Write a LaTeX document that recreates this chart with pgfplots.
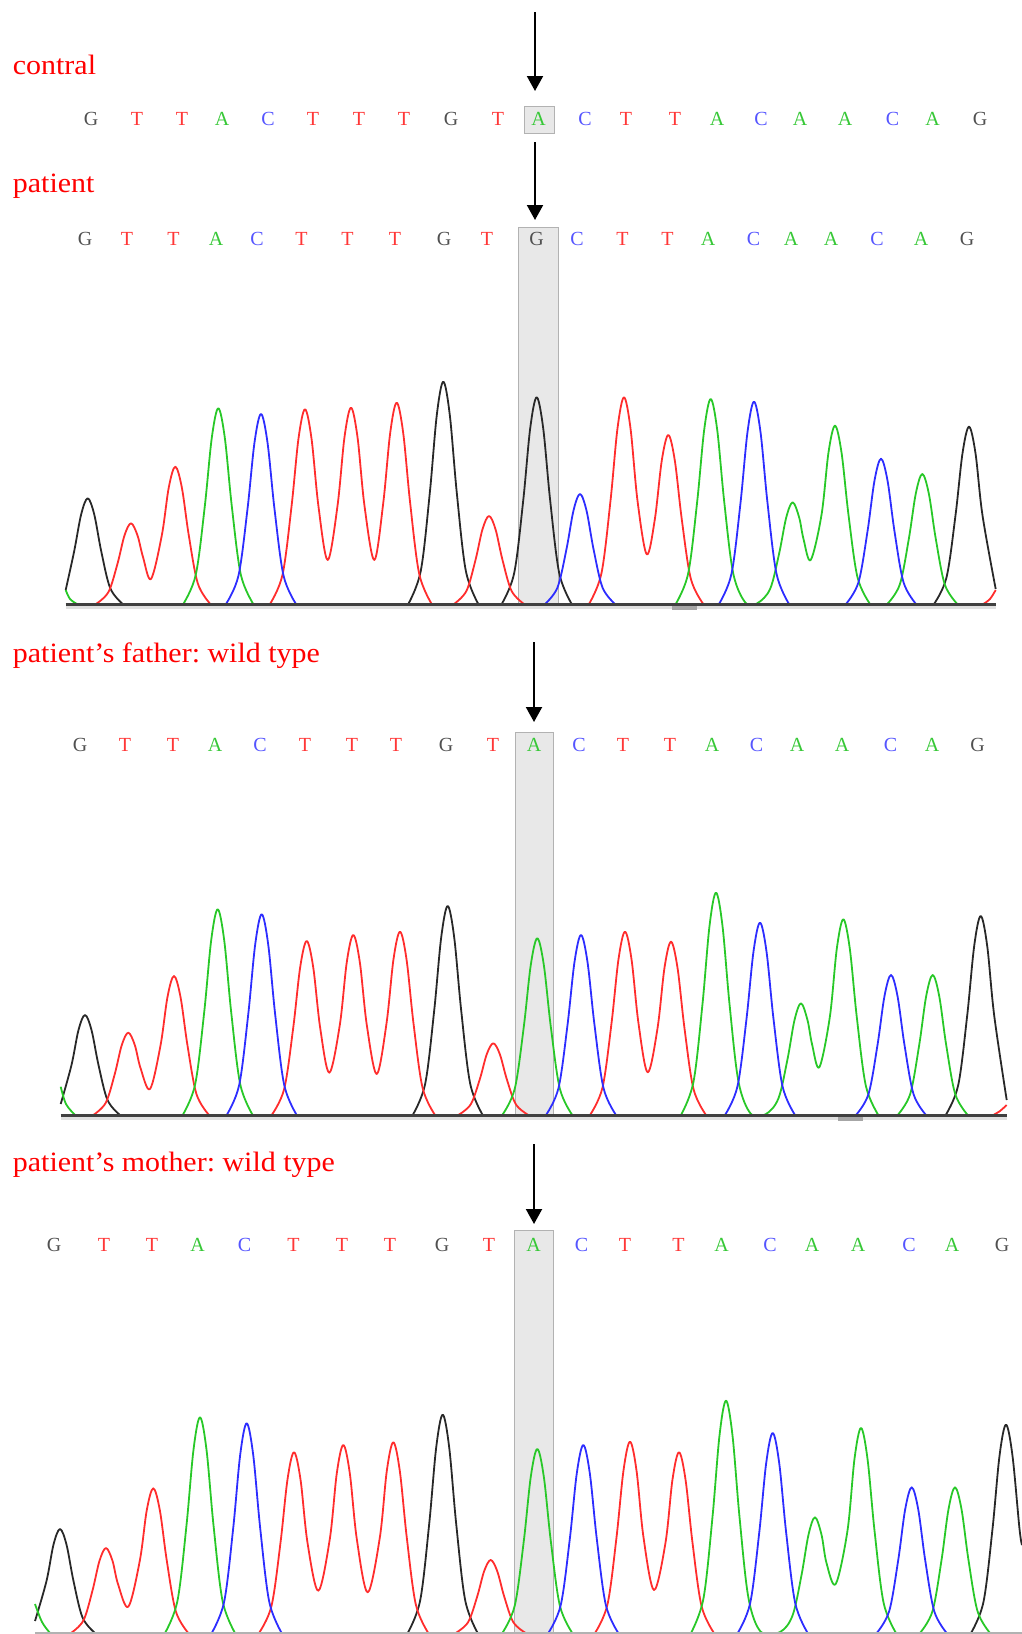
\documentclass[border=0pt]{standalone}
\usepackage{fontspec}
\setmainfont{Liberation Serif}
\newfontfamily\seqfont{lmmono10-regular.otf}[FakeBold=0.9]
\usepackage{graphicx}
\usepackage{pgfplots}
\pgfplotsset{compat=1.18}
\usetikzlibrary{arrows.meta}
\frenchspacing
\definecolor{trR}{RGB}{255,45,45}
\definecolor{trG}{RGB}{40,200,40}
\definecolor{trB}{RGB}{45,45,255}
\definecolor{trK}{RGB}{40,40,40}
\definecolor{seqG}{RGB}{80,80,80}
\definecolor{seqT}{RGB}{255,55,55}
\definecolor{seqA}{RGB}{55,200,55}
\definecolor{seqC}{RGB}{85,85,255}
\definecolor{boxfill}{RGB}{232,232,232}
\definecolor{boxline}{RGB}{178,178,178}
\definecolor{lab}{RGB}{255,0,0}
\tikzset{lbl/.style={anchor=base west,inner sep=0pt,text=lab,font=\fontsize{14}{14}\selectfont}}
\begin{document}
\begin{tikzpicture}
\begin{axis}[width=511pt,height=817pt,scale only axis,
  xmin=0,xmax=1022,ymin=0,ymax=1634,y dir=reverse,hide axis,
  unbounded coords=jump,
  trace/.style={smooth,tension=0.55,line width=0.9pt,mark=none,line join=round},
  seqbig/.style={only marks,mark=text,text mark as node=true,
     text mark style={font=\fontsize{9.6}{9.6}\seqfont,anchor=center}},
  seqsmall/.style={only marks,mark=text,text mark as node=true,
     text mark style={font=\fontsize{8.8}{8.8}\seqfont,anchor=center}},
]
\path (rel axis cs:0,0) rectangle (rel axis cs:1,1);

% highlight boxes
\draw[fill=boxfill,draw=boxline,line width=0.5pt] (axis cs:524.5,106) rectangle (axis cs:554.5,133);
\draw[fill=boxfill,draw=boxline,line width=0.5pt] (axis cs:518,227) rectangle (axis cs:558,604);
\draw[fill=boxfill,draw=boxline,line width=0.5pt] (axis cs:515.5,732) rectangle (axis cs:553.5,1115);
\draw[fill=boxfill,draw=boxline,line width=0.5pt] (axis cs:514,1230) rectangle (axis cs:553.5,1634);

% labels
\node[lbl] at (axis cs:12.5,74) {\scalebox{1.07}[1]{contral}};
\node[lbl] at (axis cs:12.5,192) {\scalebox{1.07}[1]{patient}};
\node[lbl] at (axis cs:12.5,662) {\scalebox{1.07}[1]{patient’s father: wild type}};
\node[lbl] at (axis cs:12.5,1171) {\scalebox{1.07}[1]{patient’s mother: wild type}};

% arrows
\draw[line width=1pt,-{Triangle[width=8pt,length=7.5pt]}] (axis cs:535,12) -- (axis cs:535,91);
\draw[line width=1pt,-{Triangle[width=8pt,length=7.5pt]}] (axis cs:535,142) -- (axis cs:535,220);
\draw[line width=1pt,-{Triangle[width=8pt,length=7.5pt]}] (axis cs:534,642) -- (axis cs:534,722);
\draw[line width=1pt,-{Triangle[width=8pt,length=7.5pt]}] (axis cs:534,1144) -- (axis cs:534,1224);

% ---- base calls: contral (y=119)
\addplot[seqbig,color=seqG,text mark={G},text mark style={text=seqG}] coordinates {(91,119) (451,119) (980,119)};
\addplot[seqbig,color=seqT,text mark={T},text mark style={text=seqT}] coordinates {(137,119) (182,119) (313,119) (359,119) (404,119) (498,119) (626,119) (675,119)};
\addplot[seqbig,color=seqA,text mark={A},text mark style={text=seqA}] coordinates {(222,119) (538.5,119) (717,119) (800,119) (845,119) (932.5,119)};
\addplot[seqbig,color=seqC,text mark={C},text mark style={text=seqC}] coordinates {(268,119) (585,119) (761,119) (892.5,119)};
% patient (y=239)
\addplot[seqsmall,color=seqG,text mark={G},text mark style={text=seqG}] coordinates {(85,239) (444,239) (536.5,239) (967,239)};
\addplot[seqsmall,color=seqT,text mark={T},text mark style={text=seqT}] coordinates {(127,239) (173.5,239) (301.5,239) (347.5,239) (395,239) (487,239) (622.5,239) (667.5,239)};
\addplot[seqsmall,color=seqA,text mark={A},text mark style={text=seqA}] coordinates {(216,239) (708,239) (791,239) (831,239) (921,239)};
\addplot[seqsmall,color=seqC,text mark={C},text mark style={text=seqC}] coordinates {(257,239) (577,239) (753.5,239) (877,239)};
% father (y=744.5)
\addplot[seqsmall,color=seqG,text mark={G},text mark style={text=seqG}] coordinates {(80,744.5) (446,744.5) (977.5,744.5)};
\addplot[seqsmall,color=seqT,text mark={T},text mark style={text=seqT}] coordinates {(125,744.5) (173,744.5) (305,744.5) (352,744.5) (396,744.5) (493,744.5) (623,744.5) (670,744.5)};
\addplot[seqsmall,color=seqA,text mark={A},text mark style={text=seqA}] coordinates {(215,744.5) (534,744.5) (712,744.5) (797,744.5) (842,744.5) (932,744.5)};
\addplot[seqsmall,color=seqC,text mark={C},text mark style={text=seqC}] coordinates {(260,744.5) (579,744.5) (756.5,744.5) (890.5,744.5)};
% mother (y=1244.5)
\addplot[seqbig,color=seqG,text mark={G},text mark style={text=seqG}] coordinates {(54,1244.5) (442,1244.5) (1002,1244.5)};
\addplot[seqbig,color=seqT,text mark={T},text mark style={text=seqT}] coordinates {(104,1244.5) (152,1244.5) (293.5,1244.5) (342,1244.5) (390,1244.5) (489,1244.5) (625,1244.5) (678.5,1244.5)};
\addplot[seqbig,color=seqA,text mark={A},text mark style={text=seqA}] coordinates {(197.5,1244.5) (533.5,1244.5) (721.5,1244.5) (812,1244.5) (858,1244.5) (952,1244.5)};
\addplot[seqbig,color=seqC,text mark={C},text mark style={text=seqC}] coordinates {(244.5,1244.5) (581.5,1244.5) (770,1244.5) (909,1244.5)};

% ================= PATIENT traces (baseline 604)
\addplot[trace,trK] coordinates {
(65.7,590) (74.2,551.1) (81.2,514.2) (87.7,498.3) (94.2,514.2) (101.2,551.1) (110.2,588.1) (122.7,604) (nan,nan)
(408.3,604) (420.8,570.7) (429.8,492.9) (436.8,415) (443.3,381.7) (449.8,415) (456.8,492.9) (465.8,570.7) (478.3,604) (nan,nan)
(501.7,604) (514.2,573) (523.2,500.7) (530.2,428.3) (536.7,397.3) (543.2,428.3) (550.2,500.7) (559.2,573) (571.7,604) (nan,nan)
(934,604) (946.5,577.4) (955.5,515.4) (962.5,453.3) (969,426.7) (975.5,453.3) (982.5,515.4) (995.7,589)};
\addplot[trace,trR] coordinates {
(96,604) (108.5,591.9) (117.5,563.7) (124.5,535.4) (131,523.3) (137.5,535.4) (143,557) (151,579) (161.8,535.4) (168.8,487.3) (175.3,466.7) (181.8,487.3) (188.8,535.4) (197.8,583.4) (210.3,604) (nan,nan)
(270,604) (282.5,574.8) (291.5,506.7) (298.5,438.5) (305,409.3) (311.5,438.5) (318.5,506.7) (327.7,560) (337.5,505.9) (344.5,437.1) (351,407.7) (357.5,437.1) (364.5,505.9) (374.3,560) (383.2,503.4) (390.2,432.9) (396.7,402.7) (403.2,432.9) (410.2,503.4) (419.2,573.8) (431.7,604) (nan,nan)
(454,604) (466.5,590.8) (475.5,560) (482.5,529.2) (489,516) (495.5,529.2) (502.5,560) (511.5,590.8) (524,604) (nan,nan)
(589,604) (601.5,573) (610.5,500.7) (617.5,428.3) (624,397.3) (630.5,428.3) (637.5,500.7) (646.7,554.3) (654.8,519.5) (661.8,460.4) (668.3,435) (674.8,460.4) (681.8,519.5) (690.8,578.7) (703.3,604) (nan,nan)
(983.3,604) (990,599) (995.7,590)};
\addplot[trace,trG] coordinates {
(65.7,590) (70,599) (77,604) (nan,nan)
(183.3,604) (195.8,574.6) (204.8,506.2) (211.8,437.7) (218.3,408.3) (224.8,437.7) (231.8,506.2) (240.8,574.6) (253.3,604) (nan,nan)
(675.7,604) (688.2,573.3) (697.2,501.5) (704.2,429.8) (710.7,399) (717.2,429.8) (724.2,501.5) (733.2,573.3) (745.7,603) (757.7,603) (770.2,588.7) (779.2,553.2) (786.2,517.6) (792.7,502.3) (799.2,517.6) (803.5,539) (810.7,560) (821.5,514.9) (828.5,452.4) (835,425.7) (841.5,452.4) (848.5,514.9) (857.5,577.3) (870,604) (nan,nan)
(887.3,604) (899.8,584.5) (908.8,539) (915.8,493.5) (922.3,474) (928.8,493.5) (935.8,539) (944.8,584.5) (957.3,604)};
\addplot[trace,trB] coordinates {
(226,604) (238.5,575.5) (247.5,509) (254.5,442.5) (261,414) (267.5,442.5) (274.5,509) (283.5,575.5) (296,604) (nan,nan)
(545,604) (557.5,587.5) (566.5,549) (573.5,510.5) (580,494) (586.5,510.5) (593.5,549) (602.5,587.5) (615,604) (nan,nan)
(719,604) (731.5,573.7) (740.5,502.9) (747.5,432) (754,401.7) (760.5,432) (767.5,502.9) (776.5,573.7) (789,604) (nan,nan)
(846,604) (858.5,582.2) (867.5,531.4) (874.5,480.5) (881,458.7) (887.5,480.5) (894.5,531.4) (903.5,582.2) (916,604)};
\addplot[draw=black!12,line width=1.6pt] coordinates {(65.7,607) (995.7,607)};
\addplot[draw=black!35,line width=1.8pt] coordinates {(672,608) (697,608)};
\addplot[draw=black!75,line width=1.1pt] coordinates {(65.7,604.5) (995.7,604.5)};

% ================= FATHER traces (baseline 1115)
\addplot[trace,trK] coordinates {
(60.7,1104) (71.5,1065) (78.5,1030) (85,1015) (91.5,1030) (98.5,1065) (107.5,1100) (120,1115) (nan,nan)
(412.7,1115) (425.2,1083.7) (434.2,1010.5) (441.2,937.4) (447.7,906) (454.2,937.4) (461.2,1010.5) (470.2,1083.7) (482.7,1115) (nan,nan)
(945.7,1115) (958.2,1085.2) (967.2,1015.5) (974.2,945.9) (980.7,916) (987.2,945.9) (994.2,1015.5) (1006.7,1100)};
\addplot[trace,trR] coordinates {
(93.3,1115) (105.8,1102.7) (114.8,1073.9) (121.8,1045) (128.3,1032.7) (134.8,1045) (140.5,1068) (150,1089) (160.5,1045.5) (167.5,996.9) (174,976) (180.5,996.9) (187.5,1045.5) (196.5,1094.2) (209,1115) (nan,nan)
(271.7,1115) (284.2,1088.9) (293.2,1028) (300.2,967.1) (306.7,941) (313.2,967.1) (320.2,1028) (329.3,1072.7) (339.8,1025) (346.8,962) (353.3,935) (359.8,962) (366.8,1025) (376.7,1074) (386.5,1023.4) (393.5,959.2) (400,931.7) (406.5,959.2) (413.5,1023.4) (422.5,1087.5) (435,1115) (nan,nan)
(458.3,1115) (470.8,1104.2) (479.8,1079.2) (486.8,1054.1) (493.3,1043.3) (499.8,1054.1) (506.8,1079.2) (515.8,1104.2) (528.3,1115) (nan,nan)
(590,1115) (602.5,1087.5) (611.5,1023.4) (618.5,959.2) (625,931.7) (631.5,959.2) (638.5,1023.4) (647.7,1072.3) (657.5,1028.4) (664.5,967.7) (671,941.7) (677.5,967.7) (684.5,1028.4) (693.5,1089) (706,1115) (nan,nan)
(993.3,1115) (1000,1111) (1006.7,1105)};
\addplot[trace,trG] coordinates {
(60.7,1086.7) (66,1104) (75,1115) (nan,nan)
(182.7,1115) (195.2,1084.1) (204.2,1012.2) (211.2,940.2) (217.7,909.3) (224.2,940.2) (231.2,1012.2) (240.2,1084.1) (252.7,1115) (nan,nan)
(502.3,1115) (514.8,1088.5) (523.8,1026.7) (530.8,964.8) (537.3,938.3) (543.8,964.8) (550.8,1026.7) (559.8,1088.5) (572.3,1115) (nan,nan)
(681,1115) (693.5,1081.7) (702.5,1003.9) (709.5,926) (716,892.7) (722.5,926) (729.5,1003.9) (738.5,1081.7) (751,1114) (766,1114) (778.5,1098.2) (787.5,1059.2) (794.5,1020.1) (801,1003.3) (807.5,1020.1) (812,1044) (819.3,1067.3) (829.8,1017.2) (836.8,948.7) (843.3,919.3) (849.8,948.7) (856.8,1017.2) (865.8,1085.6) (878.3,1115) (nan,nan)
(897.7,1115) (910.2,1094) (919.2,1045) (926.2,996) (932.7,975) (939.2,996) (946.2,1045) (955.2,1094) (967.7,1115)};
\addplot[trace,trB] coordinates {
(226.7,1115) (239.2,1084.9) (248.2,1014.7) (255.2,944.4) (261.7,914.3) (268.2,944.4) (275.2,1014.7) (284.2,1084.9) (296.7,1115) (nan,nan)
(546,1115) (558.5,1088) (567.5,1025) (574.5,962) (581,935) (587.5,962) (594.5,1025) (603.5,1088) (616,1115) (nan,nan)
(725,1115) (737.5,1086.2) (746.5,1018.9) (753.5,951.5) (760,922.7) (766.5,951.5) (773.5,1018.9) (782.5,1086.2) (795,1115) (nan,nan)
(856,1115) (868.5,1094) (877.5,1045) (884.5,996) (891,975) (897.5,996) (904.5,1045) (913.5,1094) (926,1115)};
\addplot[draw=black!12,line width=1.6pt] coordinates {(60.7,1118) (1006.7,1118)};
\addplot[draw=black!35,line width=1.8pt] coordinates {(838,1119) (863,1119)};
\addplot[draw=black!75,line width=1.1pt] coordinates {(60.7,1115.5) (1006.7,1115.5)};

% ================= MOTHER traces (baseline 1633)
\addplot[trace,trK] coordinates {
(35,1621) (46.5,1581) (53.5,1544.6) (60,1529) (66.5,1544.6) (73.5,1581) (82.5,1617.4) (95,1633) (nan,nan)
(407.7,1633) (420.2,1600.3) (429.2,1523.9) (436.2,1447.4) (442.7,1414.7) (449.2,1447.4) (456.2,1523.9) (465.2,1600.3) (477.7,1633) (nan,nan)
(971,1633) (983.5,1601.8) (992.5,1528.9) (999.5,1455.9) (1006,1424.7) (1012.5,1455.9) (1019.5,1528.9) (1022,1545)};
\addplot[trace,trR] coordinates {
(71,1633) (83.5,1620.3) (92.5,1590.5) (99.5,1560.8) (106,1548) (112.5,1560.8) (118,1584) (128.3,1606.7) (139.8,1560.7) (146.8,1510) (153.3,1488.3) (159.8,1510) (166.8,1560.7) (175.8,1611.3) (188.3,1633) (nan,nan)
(259,1633) (271.5,1605.9) (280.5,1542.7) (287.5,1479.4) (294,1452.3) (300.5,1479.4) (307.5,1542.7) (318.3,1590.7) (329.8,1539) (336.8,1473.2) (343.3,1445) (349.8,1473.2) (356.8,1539) (367.7,1592.3) (379.8,1537.7) (386.8,1470.9) (393.3,1442.3) (399.8,1470.9) (406.8,1537.7) (415.8,1604.4) (428.3,1633) (nan,nan)
(455.7,1633) (468.2,1622) (477.2,1596.5) (484.2,1571) (490.7,1560) (497.2,1571) (504.2,1596.5) (513.2,1622) (525.7,1633) (nan,nan)
(595,1633) (607.5,1604.3) (616.5,1537.4) (623.5,1470.4) (630,1441.7) (636.5,1470.4) (643.5,1537.4) (654,1590) (665.5,1542.7) (672.5,1479.4) (679,1452.3) (685.5,1479.4) (692.5,1542.7) (701.5,1605.9) (714,1633)};
\addplot[trace,trG] coordinates {
(35,1604) (42,1622) (50,1633) (nan,nan)
(165,1633) (177.5,1600.6) (186.5,1525.2) (193.5,1449.7) (200,1417.3) (206.5,1449.7) (213.5,1525.2) (222.5,1600.6) (235,1633) (nan,nan)
(502.3,1633) (514.8,1605.4) (523.8,1541) (530.8,1476.6) (537.3,1449) (543.8,1476.6) (550.8,1541) (559.8,1605.4) (572.3,1633) (nan,nan)
(691,1633) (703.5,1598.2) (712.5,1516.9) (719.5,1435.5) (726,1400.7) (732.5,1435.5) (739.5,1516.9) (748.5,1598.2) (761,1632) (780,1632) (792.5,1615.6) (801.5,1575.2) (808.5,1534.7) (815,1517.3) (821.5,1534.7) (826.5,1563) (835.7,1584) (847.5,1530.5) (854.5,1458.8) (861,1428) (867.5,1458.8) (874.5,1530.5) (883.5,1602.3) (896,1633) (nan,nan)
(920,1633) (932.5,1611.1) (941.5,1560.2) (948.5,1509.2) (955,1487.3) (961.5,1509.2) (968.5,1560.2) (977.5,1611.1) (990,1633)};
\addplot[trace,trB] coordinates {
(211.7,1633) (224.2,1601.5) (233.2,1528.2) (240.2,1454.8) (246.7,1423.3) (253.2,1454.8) (260.2,1528.2) (269.2,1601.5) (281.7,1633) (nan,nan)
(548.3,1633) (560.8,1604.8) (569.8,1539) (576.8,1473.2) (583.3,1445) (589.8,1473.2) (596.8,1539) (605.8,1604.8) (618.3,1633) (nan,nan)
(737.7,1633) (750.2,1603) (759.2,1533) (766.2,1463) (772.7,1433) (779.2,1463) (786.2,1533) (795.2,1603) (807.7,1633) (nan,nan)
(876.7,1633) (889.2,1611.1) (898.2,1560.2) (905.2,1509.2) (911.7,1487.3) (918.2,1509.2) (925.2,1560.2) (934.2,1611.1) (946.7,1633)};
\addplot[draw=black!30,line width=1.2pt] coordinates {(35,1633) (1022,1633)};
\end{axis}
\end{tikzpicture}
\end{document}
